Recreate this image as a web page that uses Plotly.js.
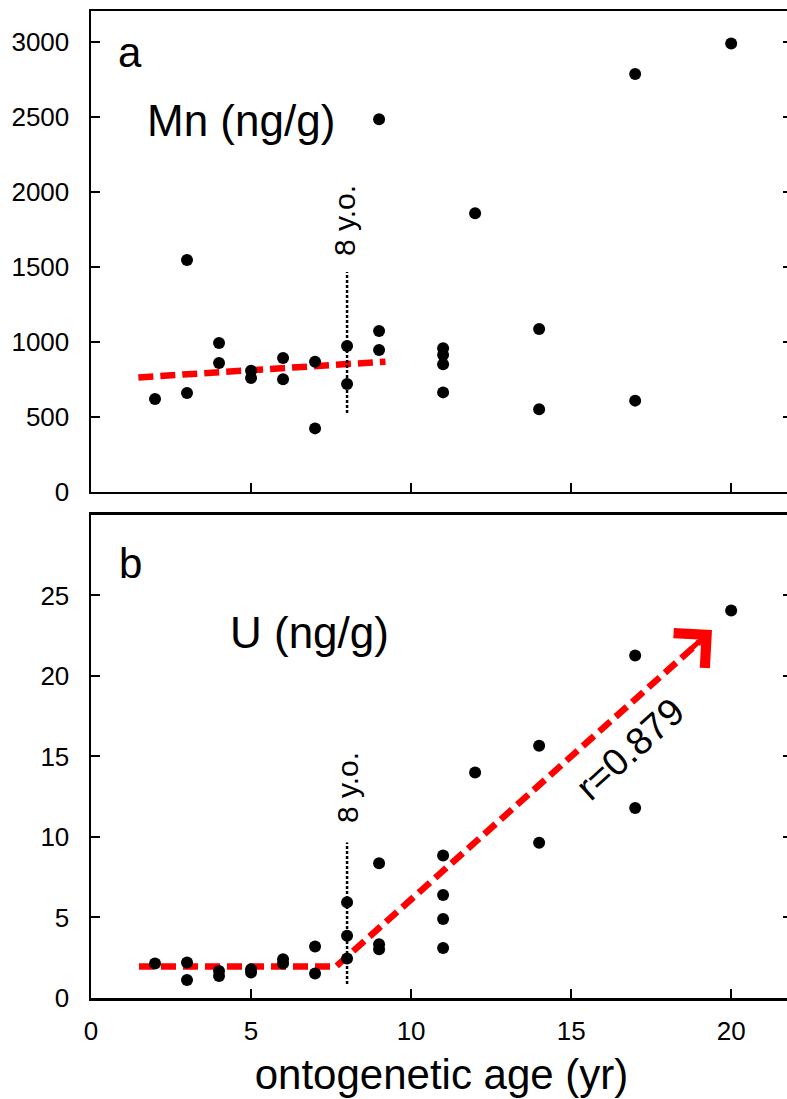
<!DOCTYPE html>
<html>
<head>
<meta charset="utf-8">
<script src="https://cdn.plot.ly/plotly-3.0.1.min.js"></script>
<style>
html,body{margin:0;padding:0;overflow:hidden;background:#fff;}
#chart{width:794px;height:1099px;}
</style>
</head>
<body>
<div id="chart"></div>
<script>
// Panel a: Mn (ng/g)
const ageMn = [2, 3, 3, 4, 4, 5, 5, 6, 6, 7, 7, 8, 8, 9, 9, 9, 11, 11, 11, 11, 12, 14, 14, 17, 17, 20];
const mn    = [620, 1547, 660, 993, 860, 809, 760, 893, 751, 869, 424, 973, 720, 2485, 1073, 947, 958, 913, 851, 664, 1858, 1087, 551, 2787, 609, 2991];
// Panel b: U (ng/g)
const ageU = [2, 3, 3, 4, 4, 5, 5, 6, 6, 7, 7, 8, 8, 8, 9, 9, 9, 11, 11, 11, 11, 12, 14, 14, 17, 17, 20];
const u    = [2.14, 2.2, 1.12, 1.68, 1.37, 1.79, 1.58, 2.41, 2.14, 3.2, 1.52, 5.94, 3.86, 2.45, 8.37, 3.34, 3.03, 8.85, 6.4, 4.9, 3.1, 14.0, 15.66, 9.64, 21.27, 11.8, 24.07];
// Trend lines
const trendMnX = [1.48, 9.2];
const trendMnY = [764, 869];
const trendUX = [1.5, 7.65, 19.0];
const trendUY = [1.95, 1.95, 22.1];
// 8 y.o. markers
const markAge = [8, 8];
const markMnY = [527, 1467];
const markUY = [0.87, 9.66];
// Axis ticks
const xTicks = [0, 5, 10, 15, 20];
const mnTicks = [0, 500, 1000, 1500, 2000, 2500, 3000];
const uTicks = [0, 5, 10, 15, 20, 25];

const red = '#ff0000';
const traces = [
  {x: trendMnX, y: trendMnY, xaxis:'x', yaxis:'y', mode:'lines', line:{color:red, width:6.5, dash:'15px,7px'}, hoverinfo:'skip'},
  {x: markAge, y: markMnY, xaxis:'x', yaxis:'y', mode:'lines', line:{color:'#000', width:2.5, dash:'3px,2px'}, hoverinfo:'skip'},
  {x: ageMn, y: mn, xaxis:'x', yaxis:'y', mode:'markers', marker:{color:'#000', size:12}},
  {x: trendUX, y: trendUY, xaxis:'x2', yaxis:'y2', mode:'lines', line:{color:red, width:6.5, dash:'15px,7px'}, hoverinfo:'skip'},
  {x: markAge, y: markUY, xaxis:'x2', yaxis:'y2', mode:'lines', line:{color:'#000', width:2.5, dash:'3px,2px'}, hoverinfo:'skip'},
  {x: ageU, y: u, xaxis:'x2', yaxis:'y2', mode:'markers', marker:{color:'#000', size:12}}
];

const FAM = 'Liberation Sans, Arial, sans-serif';
const tickFont = {family:FAM, size:26, color:'#000'};
const baseX = {range:[0, 21.9], tickvals:xTicks, ticks:'inside', ticklen:9, tickwidth:2, tickcolor:'#000',
  showline:true, linewidth:2.5, linecolor:'#000', mirror:true, showgrid:false, zeroline:false};
const baseY = {ticks:'inside', ticklen:9, tickwidth:2, tickcolor:'#000', showline:true, linewidth:2.5, linecolor:'#000',
  mirror:'ticks', showgrid:false, zeroline:false, tickfont:tickFont, ticklabelstandoff:14};

const txt = {family:FAM, color:'#000'};
const layout = {
  width:794, height:1099,
  margin:{l:91, r:2, t:11, b:101},
  paper_bgcolor:'#fff', plot_bgcolor:'#fff',
  showlegend:false,
  xaxis: Object.assign({}, baseX, {anchor:'y', domain:[0,1], showticklabels:false}),
  yaxis: Object.assign({}, baseY, {anchor:'x', domain:[0.5127, 1], range:[0, 3207], tickvals:mnTicks}),
  xaxis2: Object.assign({}, baseX, {anchor:'y2', domain:[0,1], showticklabels:true, tickfont:tickFont, ticklabelstandoff:8,
    title:{text:'ontogenetic age (yr)', font:{family:FAM, size:42, color:'#000'}, standoff:15}}),
  yaxis2: Object.assign({}, baseY, {anchor:'x2', domain:[0, 0.4894], range:[0, 30], tickvals:uTicks}),
  annotations: [
    {xref:'x', yref:'y', x:1.22, y:2927, text:'a', showarrow:false, font:Object.assign({size:42}, txt)},
    {xref:'x', yref:'y', x:4.7, y:2480, text:'Mn (ng/g)', showarrow:false, font:Object.assign({size:44}, txt)},
    {xref:'x', yref:'y', x:7.94, y:1807, text:'8 y.o.', textangle:-90, showarrow:false, font:Object.assign({size:30}, txt)},
    {xref:'x2', yref:'y2', x:1.22, y:27.0, text:'b', showarrow:false, font:Object.assign({size:42}, txt)},
    {xref:'x2', yref:'y2', x:6.84, y:22.7, text:'U (ng/g)', showarrow:false, font:Object.assign({size:44}, txt)},
    {xref:'x2', yref:'y2', x:8.0, y:13.04, text:'8 y.o.', textangle:-90, showarrow:false, font:Object.assign({size:30}, txt)},
    {xref:'x2', yref:'y2', x:16.84, y:15.47, text:'r=0.879', textangle:-42, showarrow:false, font:Object.assign({size:38}, txt)},
    {xref:'x2', yref:'y2', x:19.4, y:22.85, axref:'x2', ayref:'y2', ax:18.7, ay:21.6, text:'', showarrow:true,
      arrowhead:4, arrowsize:1.8, arrowwidth:5, arrowcolor:red, standoff:0}
  ]
};

Plotly.newPlot('chart', traces, layout, {staticPlot:true, displayModeBar:false});
</script>
</body>
</html>
